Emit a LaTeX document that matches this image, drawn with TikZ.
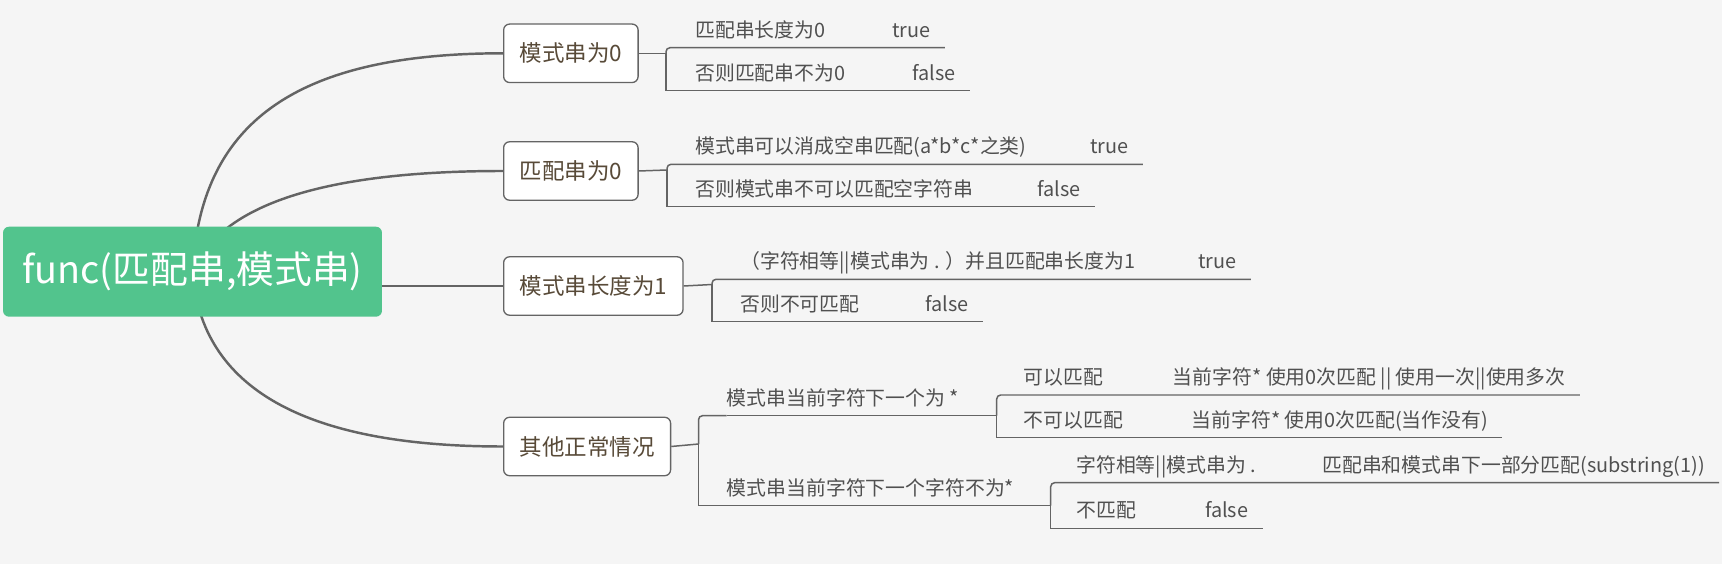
\documentclass[tikz,border=0pt]{standalone}
\usepackage{fontspec}
\setmainfont{Noto Sans CJK SC}
\definecolor{rootgreen}{RGB}{82,196,141}
\definecolor{paper}{RGB}{245,245,245}
\definecolor{wirecol}{RGB}{100,100,100}
\definecolor{topictxt}{RGB}{88,74,56}
\definecolor{leaftxt}{RGB}{80,80,80}
\pgfdeclarelayer{back}
\pgfdeclarelayer{wires}
\pgfsetlayers{back,wires,main}

\begin{document}
\begin{tikzpicture}[x=0.02cm,y=-0.02cm,
  rootbox/.style={fill=rootgreen,rounded corners=0.12cm,text=white,font=\fontsize{21.5}{25}\selectfont,minimum width=7.58cm,minimum height=1.8cm,inner sep=0},
  topic/.style={draw=wirecol,fill=white,rounded corners=0.12cm,line width=0.75pt,text=topictxt,font=\fontsize{12.8}{15}\selectfont,anchor=west,minimum height=1.17cm,inner xsep=0.32cm},
  leaf/.style={anchor=south west,inner sep=0,text depth=0.2cm,text=leaftxt,font=\fontsize{11.3}{13}\selectfont},
  val/.style={leaf,inner xsep=0.28cm},
  curve/.style={wirecol,line width=1.4pt},
  link/.style={wirecol,line width=0.85pt},
  elbow/.style={link,rounded corners=0.08cm}]
\useasboundingbox (0,0) rectangle (1722,564);
\begin{pgfonlayer}{back}
\fill[paper] (0,0) rectangle (1722,564);
\end{pgfonlayer}

\node[rootbox] (root) at (192.5,271.7) {func(匹配串,模式串)};
\node[topic] (b1) at (503,53.3) {模式串为0};
\node[topic] (b2) at (503,171) {匹配串为0};
\node[topic] (b3) at (503,286) {模式串长度为1};
\node[topic] (b4) at (503,446.5) {其他正常情况};

\begin{pgfonlayer}{wires}
\draw[curve] (root.center) .. controls (200,126) and (291,53.3) .. (b1.west);
\draw[curve] (root.center) .. controls (221,204) and (325,171) .. (b2.west);
\draw[curve] (b3.west -| root.east) -- (b3.west);
\draw[curve] (root.center) .. controls (201,388) and (304,446.5) .. (b4.west);
\end{pgfonlayer}

\node[leaf] (l11) at (695,47.7) {匹配串长度为0};
\node[val] (v11) at (878,47.7) {true};
\node[leaf] (l12) at (695,90.7) {否则匹配串不为0};
\node[val] (v12) at (898,90.7) {false};
\coordinate (k1) at (666,53.3);
\draw[link] (b1.east) -- (k1);
\draw[elbow] (v11.south east) -- (l11.south west) -| (k1);
\draw[link] (k1) |- (l12.south west) -- (v12.south east);

\node[leaf] (l21) at (695,164.3) {模式串可以消成空串匹配(a*b*c*之类)};
\node[val] (v21) at (1076,164.3) {true};
\node[leaf] (l22) at (695,206.7) {否则模式串不可以匹配空字符串};
\node[val] (v22) at (1023,206.7) {false};
\coordinate (k2) at (667,170);
\draw[link] (b2.east) -- (k2);
\draw[elbow] (v21.south east) -- (l21.south west) -| (k2);
\draw[link] (k2) |- (l22.south west) -- (v22.south east);

\node[leaf] (l31) at (740,279.3) {（字符相等||模式串为 . ）并且匹配串长度为1};
\node[val] (v31) at (1184,279.3) {true};
\node[leaf] (l32) at (740,321.7) {否则不可匹配};
\node[val] (v32) at (911,321.7) {false};
\coordinate (k3) at (712,284.5);
\draw[link] (b3.east) -- (k3);
\draw[elbow] (v31.south east) -- (l31.south west) -| (k3);
\draw[link] (k3) |- (l32.south west) -- (v32.south east);

\node[leaf] (l41) at (726.6,415.7) {模式串当前字符下一个为 *};
\node[leaf] (l42) at (726.6,505.7) {模式串当前字符下一个字符不为*};
\coordinate (k4) at (698.5,444);
\draw[link] (b4.east) -- (k4);
\draw[elbow] (l41.south west) -| (k4);
\draw[link] (k4) |- (l42.south west);

\node[leaf] (l411) at (1023.5,395) {可以匹配};
\node[val] (v411) at (1158.6,395) {当前字符* 使用0次匹配 || 使用一次||使用多次};
\node[leaf] (l412) at (1023.5,437.7) {不可以匹配};
\node[val] (v412) at (1177.5,437.7) {当前字符* 使用0次匹配(当作没有)};
\coordinate (k41) at (996.7,415.7);
\draw[link] (l41.south west) -- (k41);
\draw[elbow] (v411.south east) -- (l411.south west) -| (k41);
\draw[link] (k41) |- (l412.south west) -- (v412.south east);

\node[leaf] (l421) at (1076,482.7) {字符相等||模式串为 .};
\node[val] (v421) at (1308,482.7) {匹配串和模式串下一部分匹配(substring(1))};
\node[leaf] (l422) at (1076,528.3) {不匹配};
\node[val] (v422) at (1190.7,528.3) {false};
\coordinate (k42) at (1050.7,505.7);
\draw[link] (l42.south west) -- (k42);
\draw[elbow] (v421.south east) -- (l421.south west) -| (k42);
\draw[link] (k42) |- (l422.south west) -- (v422.south east);
\end{tikzpicture}
\end{document}
